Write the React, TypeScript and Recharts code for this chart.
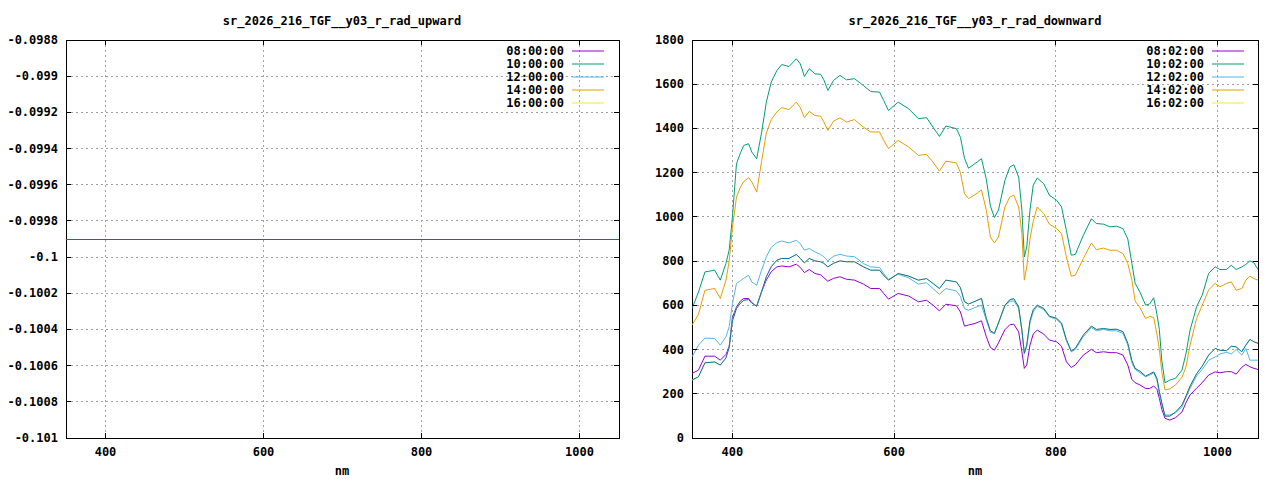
import React from "react";
import { LineChart, Line, XAxis, YAxis, CartesianGrid, ReferenceArea } from "recharts";

// wavelength grid (nm) shared by the downward series
const wavelengths = [
  350, 358, 366, 378, 385, 392, 396, 400, 405, 410,
  414, 420, 424, 430, 436, 442, 448, 455, 461, 470,
  479, 484, 489, 495, 502, 509, 513, 518, 525, 533,
  541, 551, 562, 571, 582, 587, 593, 605, 618, 630,
  640, 648, 656, 664, 677, 682, 687, 692, 700, 708,
  714, 719, 724, 729, 737, 743, 748, 754, 758, 761,
  764, 768, 772, 777, 785, 792, 801, 807, 813, 819,
  824, 834, 844, 850, 859, 867, 875, 883, 889, 894,
  898, 904, 911, 916, 921, 925, 928, 931, 935, 941,
  948, 956, 961, 966, 974, 981, 989, 997, 1003, 1011,
  1017, 1023, 1030, 1035, 1040, 1045, 1050,
];

const down0802 = [
  292, 307, 370, 370, 352, 378, 415, 545, 593, 620,
  631, 631, 612, 596, 661, 715, 752, 774, 778, 774,
  786, 771, 748, 762, 744, 738, 725, 709, 722, 729,
  718, 714, 696, 676, 676, 654, 628, 654, 642, 616,
  623, 601, 575, 605, 598, 570, 506, 511, 518, 530,
  458, 410, 397, 430, 490, 512, 515, 480, 390, 315,
  330, 420, 470, 488, 470, 443, 435, 415, 345, 319,
  330, 375, 401, 386, 390, 386, 386, 375, 330, 265,
  250, 240, 224, 224, 235, 220, 180, 130, 89, 81,
  92, 118, 160, 195, 225, 250, 285, 299, 295, 300,
  300, 289, 320, 333, 322, 315, 310,
];

const down1002 = [
  585, 660, 751, 759, 714, 790, 850, 1000, 1240, 1290,
  1323, 1331, 1293, 1263, 1380, 1520, 1610, 1662, 1689, 1680,
  1715, 1692, 1635, 1670, 1647, 1645, 1620, 1572, 1617, 1640,
  1620, 1625, 1594, 1567, 1564, 1527, 1481, 1519, 1489, 1444,
  1449, 1406, 1364, 1411, 1399, 1360, 1265, 1220, 1241, 1263,
  1170, 1050, 997, 1030, 1165, 1225, 1236, 1180, 1030, 819,
  864, 1030, 1143, 1176, 1150, 1098, 1075, 1045, 939, 827,
  830, 917, 992, 970, 967, 955, 958, 947, 900, 790,
  700, 660, 601, 606, 634, 560, 490, 352, 250, 262,
  270, 307, 383, 488, 593, 646, 745, 774, 762, 762,
  781, 762, 774, 785, 801, 792, 762,
];

const down1202 = [
  367, 420, 452, 450, 420, 458, 503, 608, 699, 712,
  722, 736, 705, 691, 759, 820, 862, 884, 891, 882,
  894, 879, 849, 857, 842, 830, 820, 801, 822, 831,
  823, 820, 789, 774, 771, 744, 717, 741, 724, 696,
  702, 676, 650, 676, 665, 640, 585, 578, 590, 601,
  533, 478, 473, 520, 600, 618, 620, 586, 488, 383,
  412, 520, 570, 596, 581, 548, 536, 515, 440, 390,
  400, 458, 500, 485, 491, 485, 485, 473, 420, 340,
  310, 295, 277, 284, 295, 262, 200, 150, 104, 104,
  114, 141, 185, 225, 280, 310, 352, 367, 380, 388,
  380, 400, 375, 405, 352, 352, 352,
];

const down1402 = [
  510, 560, 668, 676, 631, 714, 800, 950, 1090, 1135,
  1160, 1177, 1158, 1112, 1250, 1380, 1440, 1475, 1494, 1485,
  1519, 1494, 1448, 1477, 1459, 1455, 1430, 1391, 1433, 1448,
  1429, 1440, 1406, 1384, 1384, 1346, 1309, 1346, 1316, 1278,
  1283, 1248, 1207, 1252, 1244, 1200, 1105, 1083, 1100, 1122,
  1030, 909, 882, 909, 1045, 1090, 1098, 1045, 925, 714,
  774, 900, 980, 1045, 1015, 967, 947, 925, 819, 732,
  736, 812, 882, 852, 859, 849, 849, 834, 789, 714,
  620, 590, 540, 550, 545, 470, 400, 300, 217, 222,
  240, 275, 322, 420, 540, 600, 670, 699, 684, 699,
  706, 668, 676, 714, 732, 721, 714,
];

const down1602 = [
  262, 277, 340, 344, 330, 362, 410, 530, 586, 610,
  623, 626, 610, 596, 661, 730, 775, 804, 812, 812,
  830, 812, 792, 812, 801, 797, 790, 774, 790, 801,
  797, 797, 774, 759, 759, 736, 714, 744, 732, 714,
  721, 699, 676, 714, 706, 680, 616, 606, 618, 631,
  541, 485, 473, 520, 600, 625, 630, 593, 488, 383,
  420, 530, 580, 601, 586, 551, 541, 520, 445, 393,
  405, 466, 506, 491, 495, 491, 492, 481, 428, 350,
  315, 302, 280, 289, 299, 270, 210, 160, 99, 99,
  117, 149, 190, 235, 290, 325, 375, 405, 397, 395,
  415, 412, 390, 420, 446, 435, 428,
];

// upward radiance: flat reading across the whole range
const upwardNm = [350, 1050];
const up0800 = [-0.0999, -0.0999];
const up1000 = [-0.0999, -0.0999];
const up1200 = [-0.0999, -0.0999];
const up1400 = [-0.0999, -0.0999];
const up1600 = [-0.0999, -0.0999];

const nmTicks = [400, 600, 800, 1000];
const downTicks = [0, 200, 400, 600, 800, 1000, 1200, 1400, 1600, 1800];
const downTickLabels = ["0", "200", "400", "600", "800", "1000", "1200", "1400", "1600", "1800"];
const upTicks = [-0.101, -0.1008, -0.1006, -0.1004, -0.1002, -0.1, -0.0998, -0.0996, -0.0994, -0.0992, -0.099, -0.0988];
const upTickLabels = ["-0.101", "-0.1008", "-0.1006", "-0.1004", "-0.1002", "-0.1", "-0.0998", "-0.0996", "-0.0994", "-0.0992", "-0.099", "-0.0988"];

const upLabels = ["08:00:00", "10:00:00", "12:00:00", "14:00:00", "16:00:00"];
const downLabels = ["08:02:00", "10:02:00", "12:02:00", "14:02:00", "16:02:00"];
const colors = ["#9400d3", "#009e73", "#56b4e9", "#e69f00", "#f0e442"];
const overlayColor = "#0072b2";

const FONT = "'DejaVu Sans Mono', monospace";
const TOP = 40;
const BOTTOM = 438;

const downData = wavelengths.map((nm, i) => ({
  nm,
  s0: down0802[i],
  s1: down1002[i],
  s2: down1202[i],
  s3: down1402[i],
  s4: down1602[i],
}));

const upData = upwardNm.map((nm, i) => ({
  nm,
  s0: up0800[i],
  s1: up1000[i],
  s2: up1200[i],
  s3: up1400[i],
  s4: up1600[i],
}));

function Panel({ data, yTicks, yLabels, yDomain, plotLeft, plotRight, crisp }) {
  const lineRendering = crisp ? "crispEdges" : "auto";
  const xTick = (props) => (
    <g shapeRendering="crispEdges">
      <line x1={props.x} x2={props.x} y1={BOTTOM} y2={BOTTOM - 5} stroke="#000" />
      <line x1={props.x} x2={props.x} y1={TOP} y2={TOP + 5} stroke="#000" />
      <text x={props.x} y={452} textAnchor="middle" dominantBaseline="central"
        fontFamily={FONT} fontSize={12} fontWeight="bold" fill="#000">
        {props.payload.value}
      </text>
    </g>
  );
  const yTick = (props) => {
    const idx = yTicks.indexOf(props.payload.value);
    return (
      <g shapeRendering="crispEdges">
        <line x1={plotLeft} x2={plotLeft + 5} y1={props.y} y2={props.y} stroke="#000" />
        <line x1={plotRight - 5} x2={plotRight} y1={props.y} y2={props.y} stroke="#000" />
        <text x={plotLeft - 8} y={props.y} textAnchor="end" dominantBaseline="central"
          fontFamily={FONT} fontSize={12} fontWeight="bold" fill="#000">
          {yLabels[idx]}
        </text>
      </g>
    );
  };
  return (
    <LineChart width={640} height={480} data={data}
      margin={{ top: TOP, right: 640 - plotRight, bottom: 12, left: 0 }}>
      <CartesianGrid stroke="#a0a0a0" strokeDasharray="2 3" shapeRendering="crispEdges" />
      <XAxis type="number" dataKey="nm" domain={[350, 1050]} ticks={nmTicks}
        allowDataOverflow height={30} axisLine={false} tickLine={false} tick={xTick} interval={0} />
      <YAxis type="number" domain={yDomain} ticks={yTicks} allowDataOverflow
        width={plotLeft} axisLine={false} tickLine={false} tick={yTick} interval={0} />
      {colors.map((c, i) => (
        <Line key={i} type="linear" dataKey={"s" + i} stroke={c} strokeWidth={1}
          dot={false} activeDot={false} isAnimationActive={false} shapeRendering={lineRendering} />
      ))}
      <Line type="linear" dataKey="s4" stroke={overlayColor} strokeWidth={1}
        dot={false} activeDot={false} isAnimationActive={false} legendType="none"
        shapeRendering={lineRendering} />
      <ReferenceArea x1={350} x2={1050} y1={yDomain[0]} y2={yDomain[1]}
        fill="none" stroke="#000" strokeWidth={1} ifOverflow="visible" shapeRendering="crispEdges" />
    </LineChart>
  );
}

function Key({ labels, textEnd, y0 }) {
  return (
    <g>
      {labels.map((l, i) => (
        <g key={l}>
          <text x={textEnd} y={y0 + i * 13} textAnchor="end" dominantBaseline="central"
            fontFamily={FONT} fontSize={12} fontWeight="bold" fill="#000">{l}</text>
          <line x1={textEnd + 8} x2={textEnd + 40} y1={y0 + i * 13} y2={y0 + i * 13}
            stroke={colors[i]} strokeWidth={1} />
        </g>
      ))}
    </g>
  );
}

export default function App() {
  return (
    <div style={{ position: "absolute", left: 0, top: 0, width: 1280, height: 480, background: "#fff" }}>
      <div style={{ position: "absolute", left: 0, top: 0 }}>
        <Panel data={upData} yTicks={upTicks} yLabels={upTickLabels}
          yDomain={[-0.101, -0.0988]} plotLeft={66} plotRight={619} crisp />
      </div>
      <div style={{ position: "absolute", left: 640, top: 0 }}>
        <Panel data={downData} yTicks={downTicks} yLabels={downTickLabels}
          yDomain={[0, 1800]} plotLeft={52} plotRight={618} crisp={false} />
      </div>
      <svg width={1280} height={480} style={{ position: "absolute", left: 0, top: 0, pointerEvents: "none" }}>
        <text x={342} y={21} textAnchor="middle" dominantBaseline="central"
          fontFamily={FONT} fontSize={12} fontWeight="bold">sr_2026_216_TGF__y03_r_rad_upward</text>
        <text x={975} y={21} textAnchor="middle" dominantBaseline="central"
          fontFamily={FONT} fontSize={12} fontWeight="bold">sr_2026_216_TGF__y03_r_rad_downward</text>
        <text x={342} y={471} textAnchor="middle" dominantBaseline="central"
          fontFamily={FONT} fontSize={12} fontWeight="bold">nm</text>
        <text x={975} y={471} textAnchor="middle" dominantBaseline="central"
          fontFamily={FONT} fontSize={12} fontWeight="bold">nm</text>
        <Key labels={upLabels} textEnd={564} y0={51} />
        <Key labels={downLabels} textEnd={1204} y0={51} />
      </svg>
    </div>
  );
}
